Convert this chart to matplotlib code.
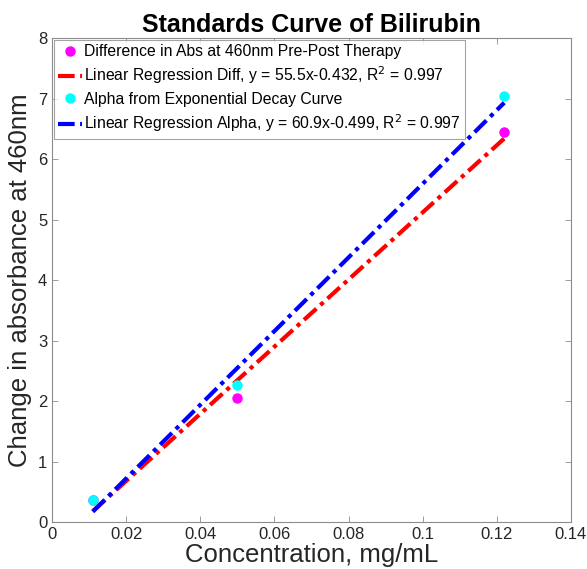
import numpy as np
import matplotlib
matplotlib.use("Agg")
import matplotlib.pyplot as plt

plt.rcParams['font.family'] = ['Liberation Sans', 'DejaVu Sans']

# Measured data
conc = [0.011, 0.05, 0.122]
diff_abs = [0.36, 2.05, 6.45]
alpha_vals = [0.36, 2.26, 7.04]

# Regression coefficients (from legend)
diff_fit = (55.5, -0.432)
alpha_fit = (60.9, -0.499)

x_fit = np.array([conc[0], conc[-1]])

fig = plt.figure(figsize=(5.87, 5.69), dpi=100)
ax = fig.add_axes([0.0886, 0.0826, 0.8841, 0.8506])

ax.plot(conc, diff_abs, 'o', color='#ff00ff', markersize=6.5, linestyle='none',
        label='Difference in Abs at 460nm Pre-Post Therapy')
ax.plot(x_fit, diff_fit[0]*x_fit + diff_fit[1], color='#ff0000', lw=3,
        linestyle=(0, (4, 1.3, 1, 1.3)),
        label='Linear Regression Diff, y = 55.5x-0.432, R$^2$ = 0.997')
ax.plot(conc, alpha_vals, 'o', color='#00ffff', markersize=6.5, linestyle='none',
        label='Alpha from Exponential Decay Curve')
ax.plot(x_fit, alpha_fit[0]*x_fit + alpha_fit[1], color='#0000ff', lw=3,
        linestyle=(0, (4, 1.3, 1, 1.3)),
        label='Linear Regression Alpha, y = 60.9x-0.499, R$^2$ = 0.997')

ax.set_xlim(0, 0.14)
ax.set_ylim(0, 8)
ax.set_xticks([0, 0.02, 0.04, 0.06, 0.08, 0.1, 0.12, 0.14])
ax.set_xticklabels(['0', '0.02', '0.04', '0.06', '0.08', '0.1', '0.12', '0.14'])
ax.set_yticks(range(0, 9))

for s in ax.spines.values():
    s.set_color('#8c8c8c')
    s.set_linewidth(0.8)
ax.tick_params(direction='in', length=4, width=0.6, color='#8c8c8c',
               labelsize=12, labelcolor='#262626', top=True, right=True)

ax.set_xlabel('Concentration, mg/mL', fontsize=18.5, color='#262626', labelpad=1)
ax.set_ylabel('Change in absorbance at 460nm', fontsize=18.5, color='#262626', labelpad=4)
ax.set_title('Standards Curve of Bilirubin', fontsize=18, fontweight='bold', pad=4)

leg = ax.legend(loc='upper left', fontsize=11.3, frameon=True, fancybox=False,
                edgecolor='#8c8c8c', handlelength=1.5, handletextpad=0.15,
                borderpad=0.3, labelspacing=0.35, borderaxespad=0.1)
leg.get_frame().set_linewidth(0.8)

plt.savefig('out.png', dpi=100)
